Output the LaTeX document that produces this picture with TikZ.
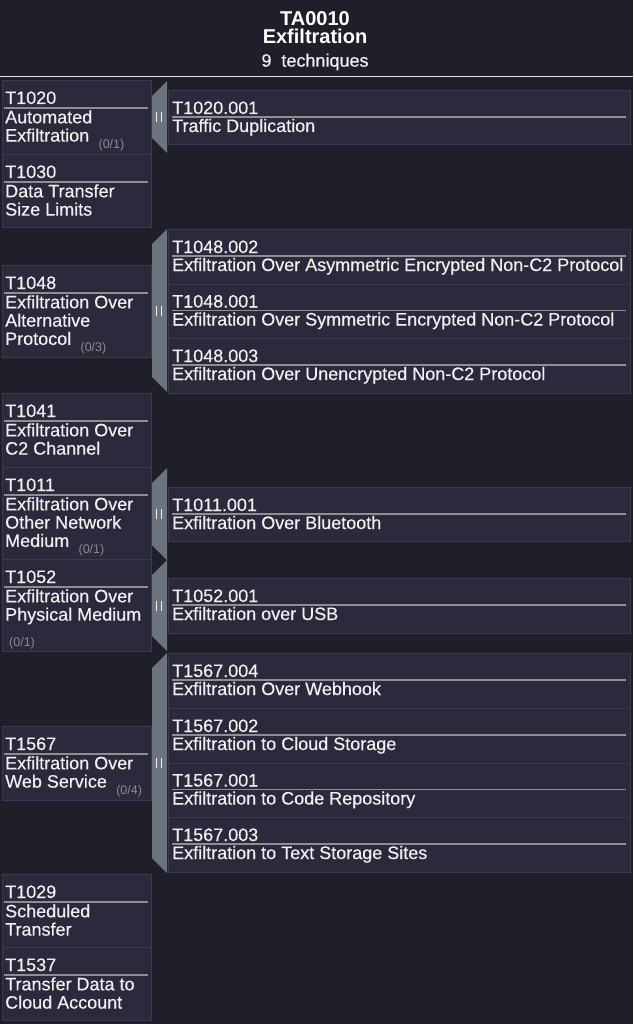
\documentclass[tikz,border=0pt]{standalone}
\usepackage{fontspec}
\setmainfont{Liberation Sans}
\newfontfamily\medfont{Liberation Sans}[FakeBold=0.35]
\usetikzlibrary{calc}
\definecolor{bgc}{HTML}{1F1F2A}
\definecolor{cellfill}{HTML}{2B2A3C}
\definecolor{cellline}{HTML}{3B3A4F}
\definecolor{barc}{HTML}{6B737D}
\definecolor{ulc}{HTML}{8E8E95}
\definecolor{txtc}{HTML}{F0F0F0}
\definecolor{cntc}{HTML}{8A8A90}
\definecolor{sepc}{HTML}{E6E6E6}
\tikzset{
  lcell/.style={draw=cellline, fill=cellfill, line width=1pt, inner sep=0pt, anchor=north west, minimum width=149pt},
  scell/.style={draw=cellline, fill=cellfill, line width=1pt, inner sep=0pt, anchor=north west, minimum width=462pt},
  txt/.style={text=txtc, font=\medfont\fontsize{18}{18.3}\selectfont, inner sep=0pt, anchor=base west},
  cnt/.style={text=cntc, font=\fontsize{12.5}{13}\selectfont, inner sep=0pt, anchor=base west},
  uline/.style={draw=ulc, line width=1.8pt},
  ico/.style={draw=txtc, line width=1.8pt},
  hb/.style={text=white, font=\bfseries\fontsize{20}{18}\selectfont, inner sep=0pt, align=center, anchor=north},
  hs/.style={text=txtc, font=\medfont\fontsize{18}{18}\selectfont, inner sep=0pt, anchor=base},
}
\newcommand{\Tleft}[4]{%
  \node[lcell, minimum height=#3pt] (#1) at (2,#2) {};
  \node[txt] (#1-id) at (5,#2+24) {#4};
  \draw[uline] (4,#2+27.7) -- (148,#2+27.7);
}
\newcommand{\Tsub}[5]{%
  \node[scell, minimum height=#3pt] (#1) at (168,#2) {};
  \node[txt] (#1-id) at (172,#2+24) {#4};
  \draw[uline] (172,#2+27) -- (626,#2+27);
  \node[txt] (#1-n1) at (172,#2+42) {#5};
}
\newcommand{\Tbar}[3]{%
  \fill[barc] (152,#2+15) -- (167,#2) -- (167,#3) -- (152,#3-15) -- cycle;
  \coordinate (#1) at (159,{(#2+#3)/2});
  \draw[ico] ($(#1)+(-2.5,-5)$) -- ($(#1)+(-2.5,5)$);
  \draw[ico] ($(#1)+(2.5,-5)$) -- ($(#1)+(2.5,5)$);
}
\begin{document}
\begin{tikzpicture}[x=1pt, y=-1pt]
\useasboundingbox (0,0) rectangle (633,1024);
\fill[bgc] (0,0) rectangle (633,1024);
% header
\node[hb] (htitle) at (315,11.5) {TA0010\\Exfiltration};
\node[hs] (hcount) at (315,66.7) {9\ \ techniques};
\coordinate (sepL) at (0,76.5);
\coordinate (sepR) at (633,76.5);
\draw[sepc, line width=1.5pt] (sepL) -- (sepR);

% bars
\Tbar{b1020}{81}{153}
\Tbar{b1048}{229}{392}
\Tbar{b1011}{468}{560}
\Tbar{b1052}{560}{651}
\Tbar{b1567}{653}{873}

% T1020
\Tleft{t1020}{80}{74}{T1020}
\node[txt] (t1020-n1) at (5,123.3) {Automated};
\node[txt] (t1020-n2) at (5,141.6) {Exfiltration};
\node[cnt] (t1020-c) at ($(t1020-n2.base east)+(9,7)$) {(0/1)};
% T1030
\Tleft{t1030}{154}{73}{T1030}
\node[txt] (t1030-n1) at (5,197.3) {Data Transfer};
\node[txt] (t1030-n2) at (5,215.6) {Size Limits};
% T1048
\Tleft{t1048}{265}{92}{T1048}
\node[txt] (t1048-n1) at (5,308.3) {Exfiltration Over};
\node[txt] (t1048-n2) at (5,326.6) {Alternative};
\node[txt] (t1048-n3) at (5,344.9) {Protocol};
\node[cnt] (t1048-c) at ($(t1048-n3.base east)+(9,7)$) {(0/3)};
% T1041
\Tleft{t1041}{393}{74}{T1041}
\node[txt] (t1041-n1) at (5,436.3) {Exfiltration Over};
\node[txt] (t1041-n2) at (5,454.6) {C2 Channel};
% T1011
\Tleft{t1011}{467}{92}{T1011}
\node[txt] (t1011-n1) at (5,510.3) {Exfiltration Over};
\node[txt] (t1011-n2) at (5,528.6) {Other Network};
\node[txt] (t1011-n3) at (5,546.9) {Medium};
\node[cnt] (t1011-c) at ($(t1011-n3.base east)+(9,7)$) {(0/1)};
% T1052
\Tleft{t1052}{559}{92}{T1052}
\node[txt] (t1052-n1) at (5,602.3) {Exfiltration Over};
\node[txt] (t1052-n2) at (5,620.6) {Physical Medium};
\node[cnt] (t1052-c) at (9,646) {(0/1)};
% T1567
\Tleft{t1567}{726}{74}{T1567}
\node[txt] (t1567-n1) at (5,769.3) {Exfiltration Over};
\node[txt] (t1567-n2) at (5,787.6) {Web Service};
\node[cnt] (t1567-c) at ($(t1567-n2.base east)+(9,7)$) {(0/4)};
% T1029
\Tleft{t1029}{874}{73}{T1029}
\node[txt] (t1029-n1) at (5,917.3) {Scheduled};
\node[txt] (t1029-n2) at (5,935.6) {Transfer};
% T1537
\Tleft{t1537}{947}{73}{T1537}
\node[txt] (t1537-n1) at (5,990.3) {Transfer Data to};
\node[txt] (t1537-n2) at (5,1008.6) {Cloud Account};

% sub-techniques
\Tsub{s1020a}{90}{54}{T1020.001}{Traffic Duplication}
\Tsub{s1048b}{229}{54.5}{T1048.002}{Exfiltration Over Asymmetric Encrypted Non-C2 Protocol}
\Tsub{s1048a}{283.5}{54.5}{T1048.001}{Exfiltration Over Symmetric Encrypted Non-C2 Protocol}
\Tsub{s1048c}{338}{54.5}{T1048.003}{Exfiltration Over Unencrypted Non-C2 Protocol}
\Tsub{s1011a}{487}{54}{T1011.001}{Exfiltration Over Bluetooth}
\Tsub{s1052a}{578}{55}{T1052.001}{Exfiltration over USB}
\Tsub{s1567d}{653}{55}{T1567.004}{Exfiltration Over Webhook}
\Tsub{s1567b}{708}{54.5}{T1567.002}{Exfiltration to Cloud Storage}
\Tsub{s1567a}{762.5}{54.5}{T1567.001}{Exfiltration to Code Repository}
\Tsub{s1567c}{817}{55}{T1567.003}{Exfiltration to Text Storage Sites}
\end{tikzpicture}
\end{document}
